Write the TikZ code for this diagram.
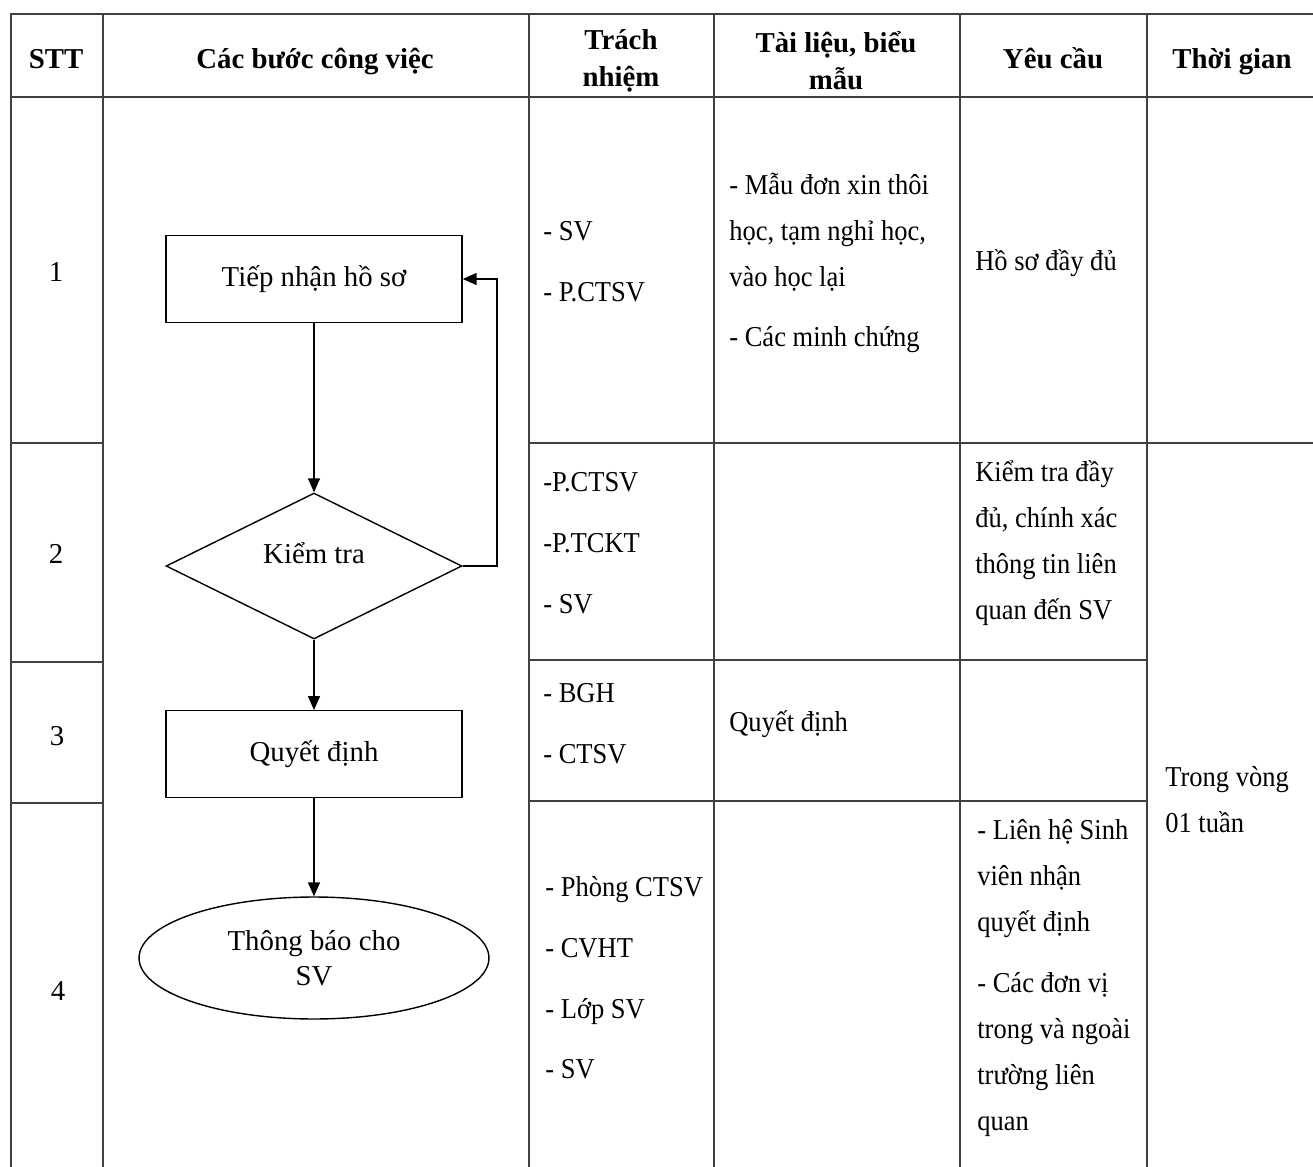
\documentclass[tikz,border=0pt]{standalone}
\usepackage{fontspec}
\setmainfont{Liberation Serif}
\newfontfamily\narrowfont[FakeStretch=0.92]{Liberation Serif}
\usetikzlibrary{arrows.meta,shapes.geometric}

\newcommand{\cellfont}{\narrowfont\fontsize{16.4}{26.1}\selectfont}
\newcommand{\flowfont}{\fontsize{16.4}{20}\selectfont}
\newcommand{\headfont}{\fontsize{16.4}{21}\selectfont\bfseries}

\begin{document}
\begin{tikzpicture}[x=0.02cm, y=-0.02cm,
  rule/.style={draw=black!75, line width=0.9pt},
  cell/.style={anchor=west, align=left, font=\cellfont, inner sep=0pt},
  head/.style={align=center, font=\headfont, inner sep=0pt},
  num/.style={font=\flowfont, inner sep=0pt},
  process/.style={draw, line width=0.8pt, rectangle, minimum width=5.92cm, minimum height=1.73cm, font=\flowfont},
  check/.style={draw, line width=0.8pt, diamond, aspect=2, minimum width=5.92cm, minimum height=2.92cm, inner sep=0pt, text depth=15pt, font=\flowfont},
  finish/.style={draw, line width=0.8pt, ellipse, minimum width=7cm, minimum height=2.44cm, align=center, font=\flowfont},
  flow/.style={line width=0.8pt, -{Triangle[length=0.28cm, width=0.24cm]}}]
	\useasboundingbox (0,0) rectangle (1313,1167);
	% table grid
	\draw[rule] (11,1167) -- (11,14) -- (1313,14);
	\draw[rule] (11,97) -- (1313,97);
	\foreach \x in {103,529,714,960,1147} \draw[rule] (\x,14) -- (\x,1167);
	\foreach \y in {443,662,803} \draw[rule] (11,\y) -- (103,\y);
	\draw[rule] (529,443) -- (1313,443);
	\foreach \y in {660,801} \draw[rule] (529,\y) -- (1147,\y);
	% header
	\node[head, anchor=base] (h1) at (56,68) {STT};
	\node[head, anchor=base] (h2) at (315,68) {Các bước công việc};
	\node[head] (h3) at (621,61) {Trách\\nhiệm};
	\node[head] (h4) at (836,61) {Tài liệu, biểu\\mẫu};
	\node[head, anchor=base] (h5) at (1053,68) {Yêu cầu};
	\node[head, anchor=base] (h6) at (1232,68) {Thời gian};
	% step numbers
	\node[num] (s1) at (56,272) {1};
	\node[num] (s2) at (56,554) {2};
	\node[num] (s3) at (57,736) {3};
	\node[num] (s4) at (58,991) {4};
	% flowchart
	\node[process] (nhan) at (314,279) {Tiếp nhận hồ sơ};
	\node[check] (ktra) at (314,566) {Kiểm tra};
	\node[process] (qd) at (314,754) {Quyết định};
	\node[finish] (tb) at (314,958) {Thông báo cho\\SV};
	\coordinate (back) at (497,566);
	\draw[flow] (nhan) -- (ktra);
	\draw[flow] (ktra) -- (qd);
	\draw[flow] (qd) -- (tb);
	\draw[flow] (ktra.east) -- (back) |- (nhan.east);
	% cells
	\node[cell] (tn1) at (543,262) {- SV\\[8.5pt]- P.CTSV};
	\node[cell] (tl1) at (729,263) {- Mẫu đơn xin thôi\\học, tạm nghỉ học,\\vào học lại\\[8.5pt]- Các minh chứng};
	\node[cell] (yc1) at (975,263) {Hồ sơ đầy đủ};
	\node[cell] (tn2) at (543,543) {-P.CTSV\\[8.5pt]-P.TCKT\\[8.5pt]- SV};
	\node[cell] (yc2) at (975,543) {Kiểm tra đầy\\đủ, chính xác\\thông tin liên\\quan đến SV};
	\node[cell] (tn3) at (543,724) {- BGH\\[8.5pt]- CTSV};
	\node[cell] (tl3) at (729,724) {Quyết định};
	\node[cell] (tn4) at (545,978) {- Phòng CTSV\\[8.5pt]- CVHT\\[8.5pt]- Lớp SV\\[8.5pt]- SV};
	\node[cell] (yc4) at (977,978) {- Liên hệ Sinh\\viên nhận\\quyết định\\[8.5pt]- Các đơn vị\\trong và ngoài\\trường liên\\quan};
	\node[cell] (tg) at (1165,800) {Trong vòng\\01 tuần};
\end{tikzpicture}
\end{document}
